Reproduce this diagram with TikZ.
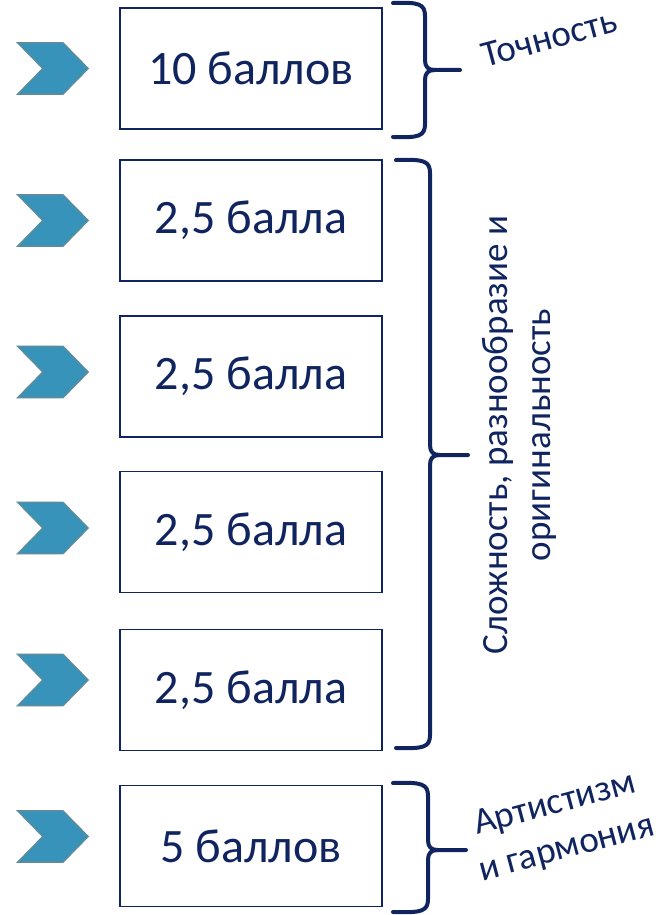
\documentclass[tikz,border=0pt]{standalone}
\usepackage{fontspec}
\setmainfont{Carlito}
\definecolor{navy}{RGB}{16,36,96}
\definecolor{chevfill}{RGB}{55,147,186}
\definecolor{chevline}{RGB}{88,140,158}
\newcommand\mychev[2]{%
  \fill[chevfill, draw=chevline, line width=1.6pt, line join=miter]
    (#1-35,#2-25.5) -- (#1+10,#2-25.5) -- (#1+35,#2) -- (#1+10,#2+25.5)
    -- (#1-35,#2+25.5) -- (#1-10,#2) -- cycle;}
% x-start, x-vertical, x-tip, y-top, y-mid, y-bottom
\newcommand\mybrace[6]{%
  \draw[bracestyle]
    (#1,#4) .. controls (#2-6,#4-1) and (#2,#4+1) .. (#2,#4+13)
    -- (#2,#5-10) .. controls (#2,#5-3) and (#2+3,#5) .. (#2+10,#5) -- (#3,#5);
  \draw[bracestyle]
    (#2+10,#5) .. controls (#2+3,#5) and (#2,#5+3) .. (#2,#5+10)
    -- (#2,#6-13) .. controls (#2,#6-1) and (#2-6,#6+1) .. (#1,#6);}
\begin{document}
\begin{tikzpicture}[x=1pt,y=-1pt,
  scorebox/.style={draw=navy, line width=1.2pt, minimum width=262pt,
    minimum height=121pt, inner sep=0pt, text=navy,
    font=\fontsize{48}{54}\selectfont},
  bracestyle/.style={draw=navy, line width=4pt, line cap=round, line join=round},
  lbl/.style={text=navy, align=center, inner sep=0pt,
    font=\fontsize{37}{44}\selectfont}]
\useasboundingbox (0,0) rectangle (658,915);

\node[scorebox] (b1) at (251,68.5) {10 баллов};
\node[scorebox] (b2) at (251,220.5) {2,5 балла};
\node[scorebox] (b3) at (251,376.5) {2,5 балла};
\node[scorebox] (b4) at (251,532) {2,5 балла};
\node[scorebox] (b5) at (251,690) {2,5 балла};
\node[scorebox] (b6) at (251,846) {5 баллов};

\mychev{53}{68.5}
\mychev{53}{220.5}
\mychev{53}{372}
\mychev{53}{528}
\mychev{53}{680}
\mychev{53}{836.5}

\mybrace{393}{425}{460}{3}{70}{137}
\mybrace{396}{430}{468}{160}{455}{748}
\mybrace{393}{428}{466}{783}{850}{912}

\node[lbl, rotate=15] (t1) at (549,38) {Точность};
\node[lbl, rotate=90, font=\fontsize{37}{43}\selectfont] (t2) at (519,435) {Сложность, разнообразие и\\оригинальность};
\node[lbl, rotate=15, font=\fontsize{37}{46}\selectfont] (t3) at (561,827) {Артистизм\\и гармония};
\end{tikzpicture}
\end{document}
